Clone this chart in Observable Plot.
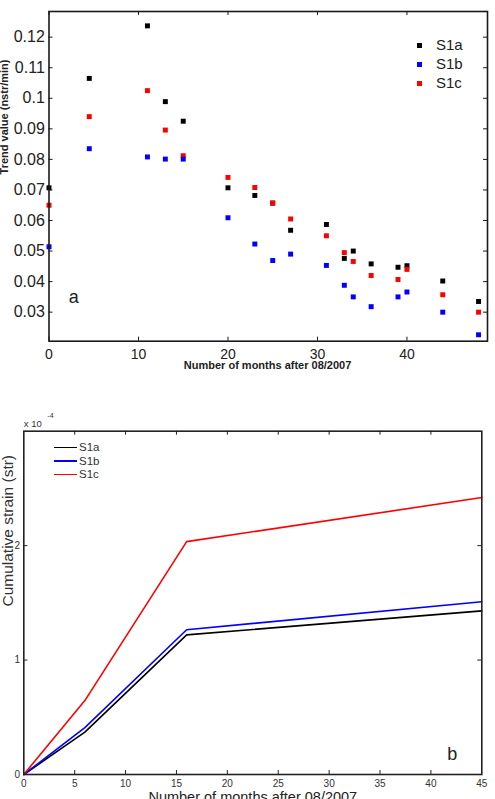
<!DOCTYPE html>
<html><head><meta charset="utf-8">
<script src="https://cdn.jsdelivr.net/npm/d3@7"></script>
<script src="https://cdn.jsdelivr.net/npm/@observablehq/plot@0.6"></script>
<style>
html,body{margin:0;padding:0;background:#fff;width:495px;height:799px;overflow:hidden;font-family:Arial,"Liberation Sans",sans-serif;}
#wrap{position:relative;width:495px;height:799px;overflow:hidden;}
.abs{position:absolute;}
</style></head><body><div id="wrap"></div>
<script>
// ---------- Panel a data ----------
const seriesNames = ["S1a", "S1b", "S1c"];
const seriesColors = ["#000000", "#0000ff", "#ff0000"];
const trendMonths = [0, 4.5, 11, 13, 15, 20, 23, 25, 27, 31, 33, 34, 36, 39, 40, 44, 48];
const trendS1a = [0.0707, 0.1065, 0.1237, 0.0989, 0.0925, 0.0707, 0.0682, 0.0657, 0.0568, 0.0587, 0.0476, 0.0500, 0.0458, 0.0447, 0.0452, 0.0402, 0.0335];
const trendS1b = [0.0514, 0.0835, 0.0808, 0.0801, 0.0801, 0.0609, 0.0523, 0.0469, 0.0490, 0.0453, 0.0388, 0.0350, 0.0318, 0.0350, 0.0366, 0.0300, 0.0226];
const trendS1c = [0.0650, 0.0940, 0.1025, 0.0896, 0.0812, 0.0741, 0.0708, 0.0657, 0.0605, 0.0550, 0.0495, 0.0466, 0.0420, 0.0407, 0.0440, 0.0357, 0.0300];
const xTicksA = [0, 10, 20, 30, 40];
const yTicksA = [0.03, 0.04, 0.05, 0.06, 0.07, 0.08, 0.09, 0.10, 0.11, 0.12];
const xDomainA = [0, 49];
const yDomainA = [0.0205, 0.1284];
const xLabelA = "Number of months after 08/2007";
const yLabelA = "Trend value (nstr/min)";
const panelA = "a";

// ---------- Panel b data ----------
const strainMonths = [0, 6, 16, 45];
const strainS1a = [0, 0.37, 1.22, 1.43];   // x 10^-4
const strainS1b = [0, 0.41, 1.265, 1.51];
const strainS1c = [0, 0.646, 2.035, 2.42];
const xTicksB = [0, 5, 10, 15, 20, 25, 30, 35, 40, 45];
const yTicksB = [0, 1, 2];
const xDomainB = [0, 45];
const yDomainB = [0, 3];
const xLabelB = "Number of months after 08/2007";
const yLabelB = "Cumulative strain (str)";
const expLabelB = ["x 10", "-4"];
const panelB = "b";

const FONT = "Arial, 'Liberation Sans', Helvetica, sans-serif";
const wrap = document.getElementById("wrap");

// ---------- build rows ----------
const trendBy = {S1a: trendS1a, S1b: trendS1b, S1c: trendS1c};
const trendRows = [];
for (const s of ["S1a", "S1c", "S1b"]) trendBy[s].forEach((v, i) => trendRows.push({series: s, month: trendMonths[i], value: v}));
const strainBy = {S1a: strainS1a, S1b: strainS1b, S1c: strainS1c};
const strainRows = [];
for (const s of seriesNames) strainBy[s].forEach((v, i) => strainRows.push({series: s, month: strainMonths[i], strain: v}));

// ---------- Panel a ----------
const mA = {left: 48.5, right: 8, top: 11, bottom: 39.3};
const WA = 495, HA = 380;
const pwA = WA - mA.left - mA.right, phA = HA - mA.top - mA.bottom;
const tk = 4;
const ax = "#1a1a1a";

const plotA = Plot.plot({
  width: WA, height: HA,
  marginLeft: mA.left, marginRight: mA.right, marginTop: mA.top, marginBottom: mA.bottom,
  style: {fontFamily: FONT, color: "#222", background: "transparent", overflow: "visible"},
  x: {domain: xDomainA},
  y: {domain: yDomainA},
  color: {domain: seriesNames, range: seriesColors},
  marks: [
    Plot.dot(trendRows, {x: "month", y: "value", fill: "series", symbol: "square", r: 2.8}),
    Plot.frame({stroke: ax, strokeWidth: 1.6}),
    Plot.tickY(yTicksA, {y: d => d, insetRight: pwA - tk, stroke: ax}),
    Plot.tickY(yTicksA, {y: d => d, insetLeft: pwA - tk, stroke: ax}),
    Plot.tickX(xTicksA, {x: d => d, insetTop: phA - tk, stroke: ax}),
    Plot.tickX(xTicksA, {x: d => d, insetBottom: phA - tk, stroke: ax}),
    Plot.axisY(yTicksA, {tickSize: 0, tickPadding: 4.2, fontSize: 16, label: null, tickFormat: d => String(+d.toFixed(2))}),
    Plot.axisX(xTicksA, {tickSize: 0, tickPadding: 7.6, fontSize: 14, label: null}),
    Plot.text([xLabelA], {frameAnchor: "bottom", dy: 24.3, dx: -0.7, fontSize: 11, fontWeight: "bold", lineAnchor: "middle", fill: "#222"}),
    Plot.text([yLabelA], {frameAnchor: "left", rotate: -90, dx: -44.5, dy: -1.9, fontSize: 11, fontWeight: "bold", lineAnchor: "middle", fill: "#222"}),
    Plot.text([panelA], {frameAnchor: "bottom-left", dx: 19.8, dy: -43.7, textAnchor: "start", fontSize: 18, lineAnchor: "middle", fill: "#222"})
  ]
});
plotA.style.position = "absolute"; plotA.style.left = "0px"; plotA.style.top = "0px";
wrap.appendChild(plotA);

// legend a
const legA = [45, 64.3, 83];
seriesNames.forEach((s, i) => {
  const sq = document.createElement("div");
  sq.className = "abs";
  Object.assign(sq.style, {left: (419 - 2.5) + "px", top: (legA[i] - 2.5) + "px", width: "5px", height: "5px", background: seriesColors[i]});
  wrap.appendChild(sq);
  const t = document.createElement("div");
  t.className = "abs";
  t.textContent = s;
  Object.assign(t.style, {left: "436px", top: (legA[i] - 9) + "px", height: "18px", lineHeight: "18px", fontSize: "15px", color: "#222", fontFamily: FONT});
  wrap.appendChild(t);
});

// ---------- Panel b ----------
const topB = 400;
const WB = 495, HB = 410;
const mB = {left: 23.3, right: 13.7, top: 30.7, bottom: 36};
const pwB = WB - mB.left - mB.right, phB = HB - mB.top - mB.bottom;
const innerX = xTicksB.filter(d => d > xDomainB[0] && d < xDomainB[1]);
const innerY = yTicksB.filter(d => d > yDomainB[0] && d < yDomainB[1]);

const plotB = Plot.plot({
  width: WB, height: HB,
  marginLeft: mB.left, marginRight: mB.right, marginTop: mB.top, marginBottom: mB.bottom,
  style: {fontFamily: FONT, color: "#333", background: "transparent", overflow: "visible"},
  x: {domain: xDomainB},
  y: {domain: yDomainB},
  color: {domain: seriesNames, range: seriesColors},
  marks: [
    Plot.line(strainRows, {x: "month", y: "strain", z: "series", stroke: "series", strokeWidth: 1.6}),
    Plot.frame({stroke: "#222", strokeWidth: 1.6}),
    Plot.tickY(innerY, {y: d => d, insetRight: pwB - tk, stroke: "#222"}),
    Plot.tickY(innerY, {y: d => d, insetLeft: pwB - tk, stroke: "#222"}),
    Plot.tickX(innerX, {x: d => d, insetTop: phB - tk, stroke: "#222"}),
    Plot.tickX(innerX, {x: d => d, insetBottom: phB - tk, stroke: "#222"}),
    Plot.axisY(yTicksB, {tickSize: 0, tickPadding: 3.8, fontSize: 10, label: null, tickFormat: d => String(d)}),
    Plot.axisX(xTicksB, {tickSize: 0, tickPadding: 5.5, fontSize: 10, label: null, tickFormat: d => String(d)}),
    Plot.text([xLabelB], {frameAnchor: "bottom", dy: 22.4, fontSize: 14.5, lineAnchor: "middle", fill: "#222"}),
    Plot.text([yLabelB], {frameAnchor: "left", rotate: -90, dx: -16, dy: 3.7, fontSize: 15.5, lineAnchor: "middle", fill: "#333"}),
    Plot.text([expLabelB[0]], {frameAnchor: "top-left", dx: 0, dy: -7.3, textAnchor: "start", fontSize: 9.5, lineAnchor: "middle", fill: "#333"}),
    Plot.text([expLabelB[1]], {frameAnchor: "top-left", dx: 23.5, dy: -15.2, textAnchor: "start", fontSize: 7, lineAnchor: "middle", fill: "#333"}),
    Plot.text([panelB], {frameAnchor: "bottom-right", dx: -34.6, dy: -20.3, textAnchor: "start", fontSize: 18, lineAnchor: "middle", fill: "#222"})
  ]
});
plotB.style.position = "absolute"; plotB.style.left = "0px"; plotB.style.top = topB + "px";
wrap.appendChild(plotB);

// legend b
const legB = [447.3, 461, 474.3];
seriesNames.forEach((s, i) => {
  const ln = document.createElement("div");
  ln.className = "abs";
  Object.assign(ln.style, {left: "54px", top: (legB[i] - 0.8) + "px", width: "23px", height: "1.6px", background: seriesColors[i]});
  wrap.appendChild(ln);
  const t = document.createElement("div");
  t.className = "abs";
  t.textContent = s;
  Object.assign(t.style, {left: "79px", top: (legB[i] - 7) + "px", height: "14px", lineHeight: "14px", fontSize: "11.5px", color: "#333", fontFamily: FONT});
  wrap.appendChild(t);
});
</script>
</body></html>
